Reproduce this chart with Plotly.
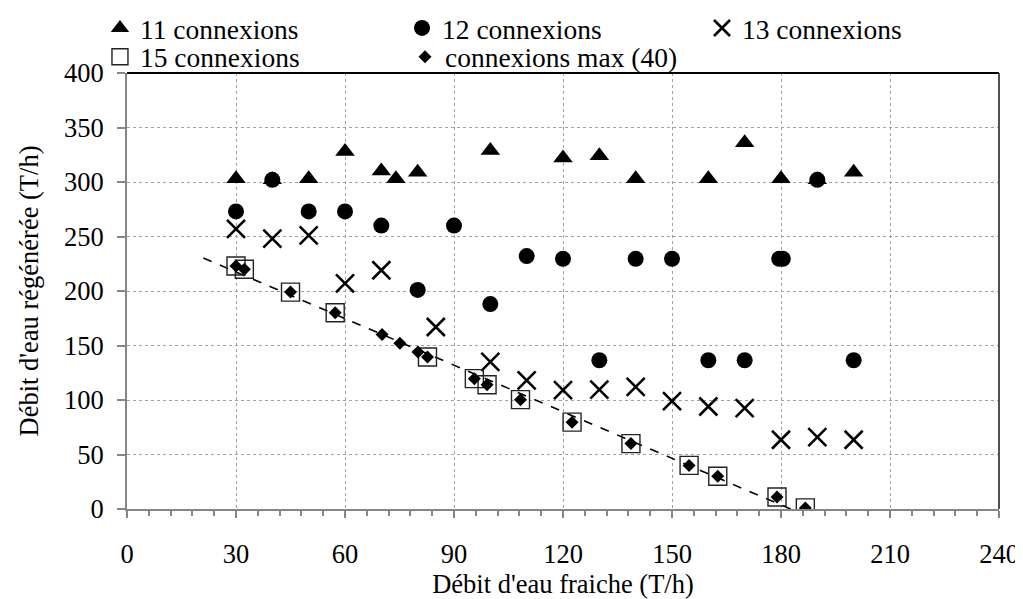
import numpy as np
import plotly.graph_objects as go

# ---- data ----
x11 = [30, 40, 50, 60, 70, 74, 80, 100, 120, 130, 140, 160, 170, 180, 190, 200]
y11 = [303, 302, 303, 328, 310, 303, 309, 329, 322, 324, 303, 303, 336, 303, 302, 309]

x12 = [30, 40, 50, 60, 70, 80, 90, 100, 110, 120, 130, 140, 150, 160, 170, 179.5, 180.5, 190, 200]
y12 = [273, 302, 273, 273, 260, 201, 260, 188, 232, 229.5, 136.5, 229.5, 229.5, 136.5, 136.5, 229.5, 229.5, 302, 136.5]

x13 = [30, 40, 50, 60, 70, 85, 100, 110, 120, 130, 140, 150, 160, 170, 180, 190, 200]
y13 = [257, 248, 251, 207, 219, 167, 135, 118, 109, 109.5, 112, 99, 94, 92.6, 63.5, 66, 63.5]

x15 = [30, 32.3, 45, 57.3, 82.7, 95.6, 99.1, 108.3, 122.5, 138.7, 154.7, 162.6, 178.9, 186.7]
y15 = [223, 220, 199, 180, 139.4, 119.6, 114, 100.3, 79.7, 60, 40, 30, 11, 1]

xmax = [30, 32.3, 45, 57.3, 70.2, 75.1, 80.1, 82.7, 95.6, 99.1, 108.3, 122.5, 138.7, 154.7, 162.6, 178.9, 186.7]
ymax = [223, 220, 199, 180, 160, 152, 144, 139.4, 119.6, 114, 100.3, 79.7, 60, 40, 30, 11, 1]

trend_x = [21, 191]  # extent of the linear trendline

names = ["11 connexions", "12 connexions", "13 connexions", "15 connexions", "connexions max (40)"]
x_ticks = [0, 30, 60, 90, 120, 150, 180, 210, 240]
y_ticks = [0, 50, 100, 150, 200, 250, 300, 350, 400]

FONT = "Liberation Serif"
FS = 26.5
LEG_FS = 27.5
AXIS_GREY = "#868686"

# linear trend of the max series
slope, intercept = np.polyfit(xmax, ymax, 1)
trend_y = [slope * v + intercept for v in trend_x]

fig = go.Figure()

fig.add_trace(go.Scatter(x=x11, y=y11, mode="markers", name=names[0], legend="legend",
                         marker=dict(symbol="triangle-up", size=17, color="black")))
fig.add_trace(go.Scatter(x=x12, y=y12, mode="markers", name=names[1], legend="legend2",
                         marker=dict(symbol="circle", size=16, color="black")))
fig.add_trace(go.Scatter(x=x13, y=y13, mode="markers", name=names[2], legend="legend3",
                         marker=dict(symbol="x-thin-open", size=18,
                                     line=dict(width=2.6, color="black"), color="black")))
fig.add_trace(go.Scatter(x=trend_x, y=trend_y, mode="lines", showlegend=False,
                         line=dict(color="black", width=1.6, dash="dash")))
fig.add_trace(go.Scatter(x=x15, y=y15, mode="markers", name=names[3], legend="legend4",
                         marker=dict(symbol="square-open", size=18,
                                     line=dict(width=1.4, color="#222222"), color="#222222")))
fig.add_trace(go.Scatter(x=xmax, y=ymax, mode="markers", name=names[4], legend="legend5",
                         marker=dict(symbol="diamond", size=10, color="black")))

def leg(x, y):
    return dict(font=dict(family=FONT, size=LEG_FS, color="black"), bgcolor="rgba(0,0,0,0)",
                xanchor="left", yanchor="middle", orientation="v", itemwidth=30, x=x, y=y)

# the page adds an 8px body margin, so the figure is drawn 8px smaller
fig.update_layout(
    width=1015, height=591,
    margin=dict(l=119, r=24, t=65, b=90, autoexpand=False),
    paper_bgcolor="white", plot_bgcolor="white",
    font=dict(family=FONT, size=FS, color="black"),
    legend=leg(-0.031, 1.103),
    legend2=leg(0.3154, 1.103),
    legend3=leg(0.6594, 1.103),
    legend4=leg(-0.031, 1.037),
    legend5=leg(0.3188, 1.037),
    xaxis=dict(range=[0, 240], tickvals=x_ticks, ticktext=[str(v) for v in x_ticks],
               showline=True, linecolor=AXIS_GREY, linewidth=2, automargin=False,
               ticks="outside", ticklen=7, tickwidth=1.5, tickcolor=AXIS_GREY,
               minor=dict(dtick=6, ticks="outside", ticklen=5, tickwidth=1.5,
                          tickcolor=AXIS_GREY, showgrid=False),
               showgrid=True, gridcolor="#a0a0a0", gridwidth=1, griddash="dot",
               zeroline=False, ticklabelstandoff=13,
               tickfont=dict(family=FONT, size=FS, color="black"),
               title=dict(text="Débit d'eau fraiche (T/h)", standoff=5,
                          font=dict(family=FONT, size=FS, color="black"))),
    yaxis=dict(range=[0, 400], tickvals=y_ticks, ticktext=[str(v) for v in y_ticks],
               showline=True, linecolor=AXIS_GREY, linewidth=2, automargin=False,
               ticks="outside", ticklen=8, tickwidth=1.5, tickcolor=AXIS_GREY,
               showgrid=True, gridcolor="#a0a0a0", gridwidth=1, griddash="dot",
               zeroline=False, ticklabelstandoff=8,
               tickfont=dict(family=FONT, size=FS, color="black"),
               title=dict(text="Débit d'eau régénérée (T/h)", standoff=18,
                          font=dict(family=FONT, size=FS, color="black"))),
    shapes=[
        dict(type="line", xref="paper", yref="paper", x0=0, x1=1, y0=1, y1=1,
             line=dict(color="black", width=2)),
        dict(type="line", xref="paper", yref="paper", x0=1, x1=1, y0=0, y1=1,
             line=dict(color="#505050", width=2)),
    ],
)

fig.write_html("out.html")
